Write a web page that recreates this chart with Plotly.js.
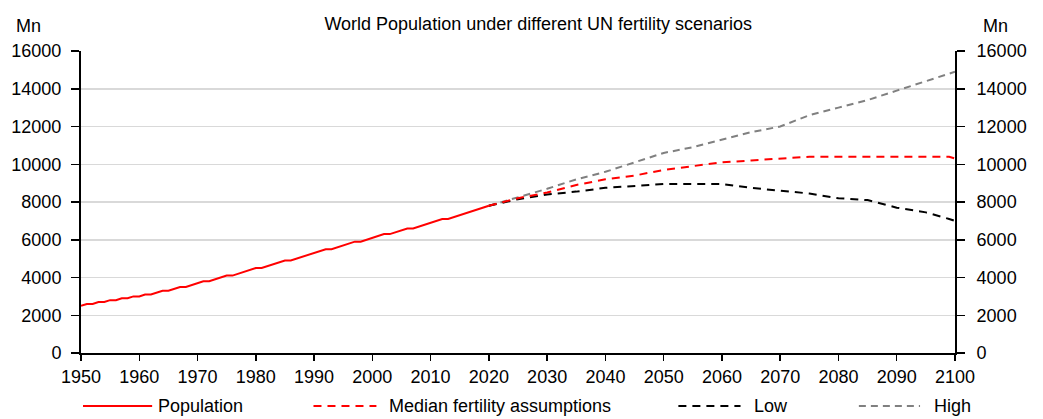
<!DOCTYPE html>
<html>
<head>
<meta charset="utf-8">
<script src="https://cdn.plot.ly/plotly-3.0.1.min.js"></script>
<style>
html,body{margin:0;padding:0;background:#fff;}
#chart{width:1043px;height:419px;}
</style>
</head>
<body>
<div id="chart"></div>
<script>
// ---- data (Mn) ----
const popYears = [];
for (let y = 1950; y <= 2020; y++) popYears.push(y);
const population = [
  2500, 2600, 2600, 2700, 2700, 2800, 2800, 2900, 2900, 3000,
  3000, 3100, 3100, 3200, 3300, 3300, 3400, 3500, 3500, 3600,
  3700, 3800, 3800, 3900, 4000, 4100, 4100, 4200, 4300, 4400,
  4500, 4500, 4600, 4700, 4800, 4900, 4900, 5000, 5100, 5200,
  5300, 5400, 5500, 5500, 5600, 5700, 5800, 5900, 5900, 6000,
  6100, 6200, 6300, 6300, 6400, 6500, 6600, 6600, 6700, 6800,
  6900, 7000, 7100, 7100, 7200, 7300, 7400, 7500, 7600, 7700,
  7800
];
const projYears = [2020, 2025, 2030, 2035, 2040, 2045, 2050, 2055, 2060, 2065, 2070, 2075, 2080, 2085, 2090, 2095, 2099, 2100];
const median = [7800, 8200, 8500, 8900, 9200, 9400, 9700, 9900, 10100, 10200, 10300, 10400, 10400, 10400, 10400, 10400, 10400, 10300];
const low    = [7800, 8150, 8400, 8550, 8750, 8850, 8950, 8950, 8950, 8750, 8600, 8450, 8200, 8100, 7700, 7450, 7100, 7000];
const high   = [7800, 8250, 8700, 9200, 9600, 10100, 10600, 10900, 11300, 11700, 12000, 12600, 13000, 13400, 13900, 14400, 14800, 14900];
const xTicks = [1950, 1960, 1970, 1980, 1990, 2000, 2010, 2020, 2030, 2040, 2050, 2060, 2070, 2080, 2090, 2100];
const yTicks = [0, 2000, 4000, 6000, 8000, 10000, 12000, 14000, 16000];

const FONT = '"Liberation Sans", Arial, sans-serif';
const FS = 18;

const traces = [
  {x: projYears, y: high, mode: 'lines', name: 'High', line: {color: '#808080', width: 2, dash: '7px,5px'}, hoverinfo: 'skip'},
  {x: projYears, y: low, mode: 'lines', name: 'Low', line: {color: '#000000', width: 2, dash: '8px,6px'}, hoverinfo: 'skip'},
  {x: projYears, y: median, mode: 'lines', name: 'Median fertility assumptions', line: {color: '#ff0000', width: 2, dash: '8px,6px'}, hoverinfo: 'skip'},
  {x: popYears, y: population, mode: 'lines', name: 'Population', line: {color: '#ff0000', width: 2}, hoverinfo: 'skip'},
  {x: popYears, y: population, yaxis: 'y2', mode: 'lines', line: {color: 'rgba(0,0,0,0)', width: 0}, hoverinfo: 'skip', showlegend: false}
];

const legY = -0.1755;
const legendItems = [
  {x0: 0.0023, x1: 0.0814, tx: 0.0860, color: '#ff0000', dash: 'solid', label: 'Population'},
  {x0: 0.266, x1: 0.338, tx: 0.350, color: '#ff0000', dash: '8px,6px', label: 'Median fertility assumptions'},
  {x0: 0.6835, x1: 0.7546, tx: 0.768, color: '#000000', dash: '8px,6px', label: 'Low'},
  {x0: 0.890, x1: 0.960, tx: 0.974, color: '#808080', dash: '7px,5px', label: 'High'}
];

const shapes = legendItems.map(it => ({
  type: 'line', xref: 'paper', yref: 'paper', x0: it.x0, x1: it.x1, y0: legY, y1: legY,
  line: {color: it.color, width: 2, dash: it.dash}
}));
const annotations = legendItems.map(it => ({
  xref: 'paper', yref: 'paper', x: it.tx, y: legY, xanchor: 'left', yanchor: 'middle',
  text: it.label, showarrow: false, font: {family: FONT, size: FS, color: '#000'}
}));
annotations.push(
  {xref: 'paper', yref: 'paper', x: -0.060, y: 1.084, xanchor: 'center', yanchor: 'middle', text: 'Mn', showarrow: false, font: {family: FONT, size: FS, color: '#000'}},
  {xref: 'paper', yref: 'paper', x: 1.046, y: 1.084, xanchor: 'center', yanchor: 'middle', text: 'Mn', showarrow: false, font: {family: FONT, size: FS, color: '#000'}}
);

const yCommon = {
  range: [0, 16000], tickvals: yTicks, ticktext: yTicks.map(String),
  showline: true, linecolor: '#000', linewidth: 2, ticks: 'outside', ticklen: 8, tickwidth: 1.5, tickcolor: '#000',
  tickfont: {family: FONT, size: FS, color: '#000'}, zeroline: false, fixedrange: true
};

const layout = {
  width: 1043, height: 419,
  margin: {l: 81, r: 88, t: 51, b: 66},
  paper_bgcolor: '#fff', plot_bgcolor: '#fff',
  showlegend: false,
  title: {text: 'World Population under different UN fertility scenarios', x: 0.516, xref: 'container', xanchor: 'center', y: 0.943, yref: 'container', yanchor: 'middle', font: {family: FONT, size: FS, color: '#000'}},
  xaxis: {
    range: [1950, 2100], tickvals: xTicks, ticktext: xTicks.map(String),
    showline: true, linecolor: '#000', linewidth: 2, ticks: 'outside', ticklen: 6, tickwidth: 1.5, tickcolor: '#000',
    showgrid: false, zeroline: false, tickfont: {family: FONT, size: FS, color: '#000'}, fixedrange: true
  },
  yaxis: Object.assign({}, yCommon, {side: 'left', showgrid: true, gridcolor: '#d9d9d9', gridwidth: 1.5, ticklabelstandoff: 6}),
  yaxis2: Object.assign({}, yCommon, {side: 'right', overlaying: 'y', showgrid: false, ticklabelstandoff: 8}),
  shapes: shapes,
  annotations: annotations
};

Plotly.newPlot('chart', traces, layout, {staticPlot: true, displayModeBar: false});
</script>
</body>
</html>
